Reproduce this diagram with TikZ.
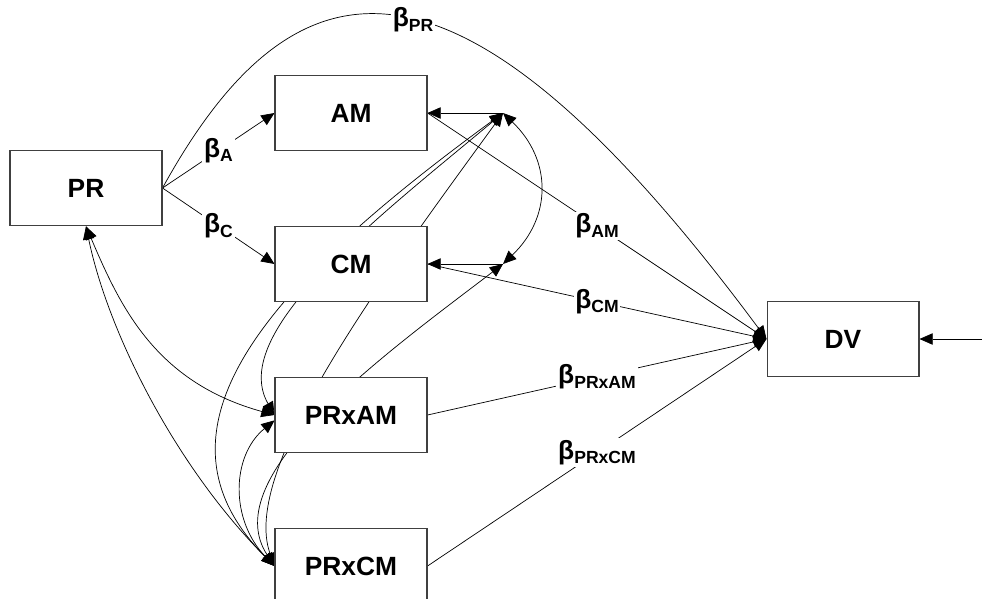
\documentclass[tikz,border=0pt]{standalone}
\usepackage{fontspec}
\setmainfont{Liberation Sans}
\usetikzlibrary{arrows.meta,backgrounds}

\newcommand{\bcoef}[1]{β\raisebox{-2.6pt}{\fontsize{10}{12}\selectfont #1}}

\begin{document}
\begin{tikzpicture}[x=0.02cm, y=-0.02cm,
  >={Triangle[length=7.5pt,width=6.5pt]},
  varbox/.style={draw=black!75, line width=0.6pt, fill=white, minimum width=3.04cm, minimum height=1.51cm, font=\fontsize{15}{18}\selectfont\bfseries},
  coef/.style={fill=white, inner sep=1pt, font=\fontsize{15}{18}\selectfont\bfseries},
  link/.style={line width=0.5pt}]
  \useasboundingbox (0,0) rectangle (982,598);

  % the variables
  \node[varbox] (PR) at (86,188) {PR};
  \node[varbox] (AM) at (351,113) {AM};
  \node[varbox] (CM) at (351,264) {CM};
  \node[varbox] (PRxAM) at (351,415) {PRxAM};
  \node[varbox] (PRxCM) at (351,566) {PRxCM};
  \node[varbox] (DV) at (843,339) {DV};

  % error terms
  \coordinate (eAM) at (503,113);
  \coordinate (eCM) at (503,264);
  \coordinate (eDV) at (982,339);

  \begin{scope}[on background layer, link]
    % paths from PR
    \draw[->] (PR.east) -- node[coef] {\bcoef{A}} (AM.west);
    \draw[->] (PR.east) -- node[coef] {\bcoef{C}} (CM.west);
    \draw[->] (PR.east) .. controls (298.5,-59) and (462.5,-70.5) .. node[coef, pos=0.52] {\bcoef{PR}} (DV.west);

    % paths into DV
    \draw[->] (AM.east) -- node[coef] {\bcoef{AM}} (DV.west);
    \draw[->] (CM.east) -- node[coef] {\bcoef{CM}} (DV.west);
    \draw[->] (PRxAM.east) -- node[coef] {\bcoef{PRxAM}} (DV.west);
    \draw[->] (PRxCM.east) -- node[coef] {\bcoef{PRxCM}} (DV.west);
    \draw[->] (eDV) -- (DV.east);

    % errors of the mediators
    \draw[->] (eAM) -- (AM.east);
    \draw[->] (eCM) -- (CM.east);
    \draw[<->] (eAM) .. controls (552,160) and (552,217) .. (eCM);

    % correlations
    \draw[<->] (PR.south) .. controls (120,306) and (155,382) .. (PRxAM.west);
    \draw[<->] (PR.south) .. controls (108,332) and (175,466) .. (PRxCM.west);
    \draw[<->] (PRxAM.184) .. controls (231,456) and (230,520) .. (PRxCM.west);
    \draw[<->] (eAM) .. controls (381,215) and (227,332) .. (PRxAM.west);
    \draw[<->] (eAM) .. controls (276,279) and (135,426) .. (PRxCM.west);
    \draw[<->] (eAM) .. controls (380,282) and (240,470) .. (PRxCM.west);
    \draw[<->] (eCM) .. controls (385,354) and (215,476) .. (PRxCM.west);
  \end{scope}
\end{tikzpicture}
\end{document}
